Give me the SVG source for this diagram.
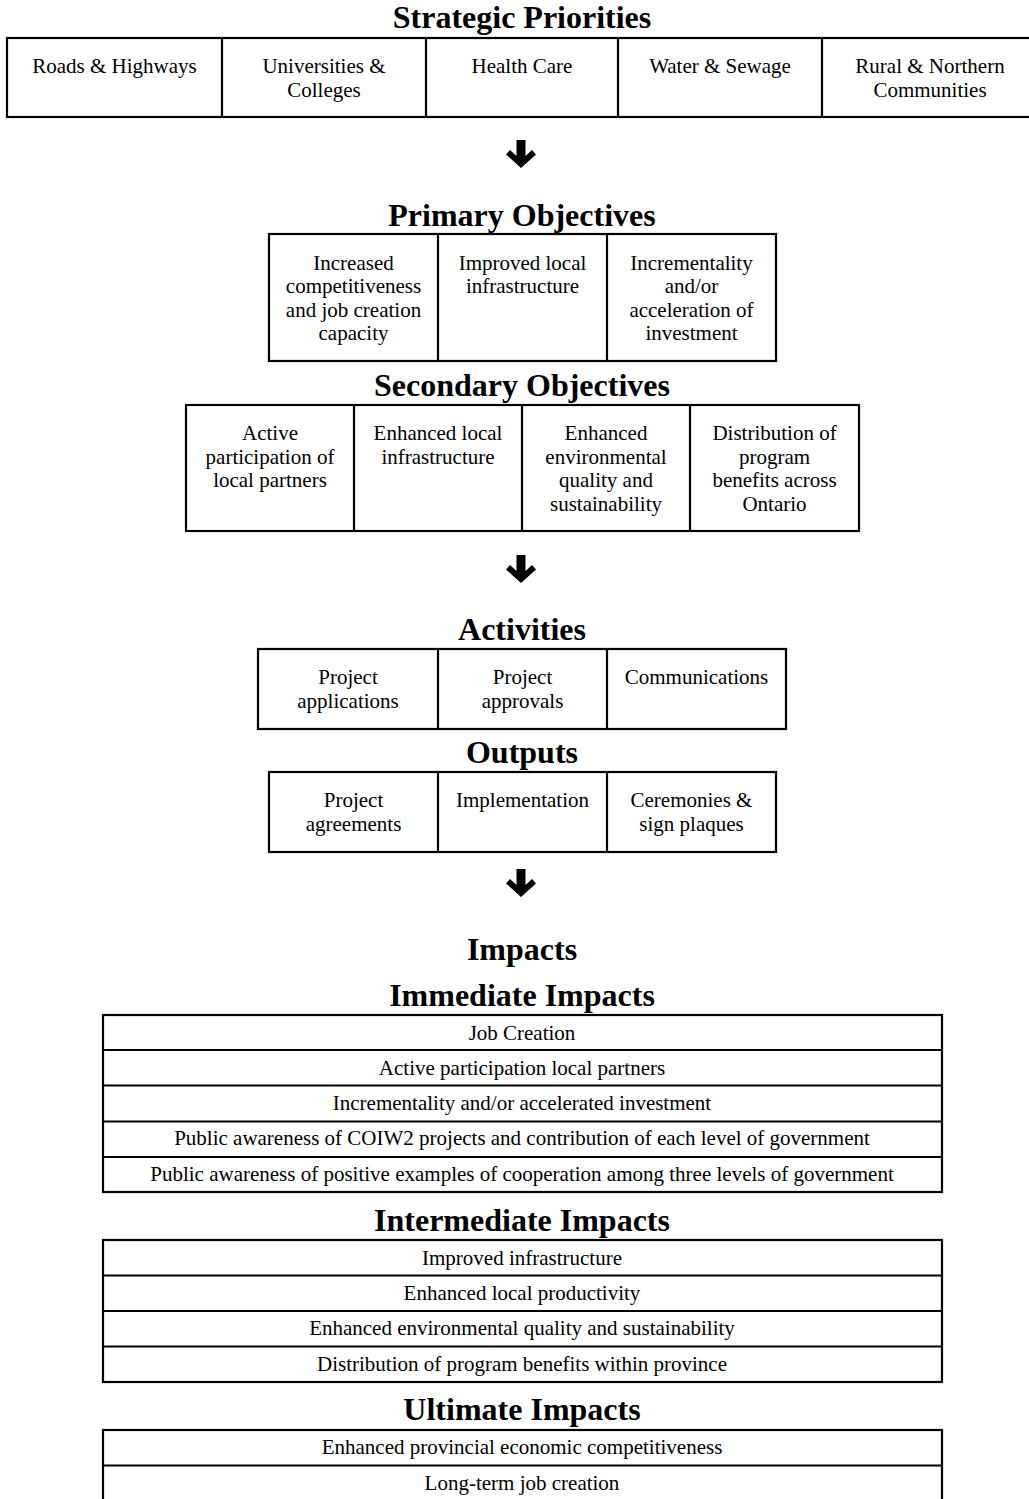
<svg xmlns="http://www.w3.org/2000/svg" width="1029" height="1499" viewBox="0 0 1029 1499">
<defs>
<style>
.t{font-family:"Liberation Serif","Times New Roman",serif;font-size:32px;font-weight:bold;text-anchor:middle;fill:#000}
.c{font-family:"Liberation Serif","Times New Roman",serif;font-size:21px;text-anchor:middle;fill:#000}
.b{fill:#fff;stroke:#000;stroke-width:2.2}
.l{stroke:#000;stroke-width:2.2;fill:none}
.a{fill:#000}
</style>
<polygon id="arrow" class="a" points="-4.5,0 4.5,0 4.5,16 11,10 15,14.5 0,28 -15,14.5 -11,10 -4.5,16"/>
</defs>
<rect width="1029" height="1499" fill="#fff"/>

<g id="strategic">
<text class="t" x="522" y="28">Strategic Priorities</text>
<rect class="b" x="7" y="38" width="1030" height="79"/>
<line class="l" x1="222" y1="38" x2="222" y2="117"/>
<line class="l" x1="426" y1="38" x2="426" y2="117"/>
<line class="l" x1="618" y1="38" x2="618" y2="117"/>
<line class="l" x1="822" y1="38" x2="822" y2="117"/>
<text class="c" x="114.5" y="73">Roads &amp; Highways</text>
<text class="c" x="324" y="73">Universities &amp;</text>
<text class="c" x="324" y="97">Colleges</text>
<text class="c" x="522" y="73">Health Care</text>
<text class="c" x="720" y="73">Water &amp; Sewage</text>
<text class="c" x="930" y="73">Rural &amp; Northern</text>
<text class="c" x="930" y="97">Communities</text>
</g>

<g id="connectors">
<use href="#arrow" x="521" y="140"/>
<use href="#arrow" x="521" y="555"/>
<use href="#arrow" x="521" y="869"/>
</g>

<g id="primary">
<text class="t" x="522" y="226">Primary Objectives</text>
<rect class="b" x="269" y="234" width="507" height="127"/>
<line class="l" x1="438" y1="234" x2="438" y2="361"/>
<line class="l" x1="607" y1="234" x2="607" y2="361"/>
<text class="c" x="353.5" y="270">Increased</text>
<text class="c" x="353.5" y="293">competitiveness</text>
<text class="c" x="353.5" y="317">and job creation</text>
<text class="c" x="353.5" y="340">capacity</text>
<text class="c" x="522.5" y="270">Improved local</text>
<text class="c" x="522.5" y="293">infrastructure</text>
<text class="c" x="691.5" y="270">Incrementality</text>
<text class="c" x="691.5" y="293">and/or</text>
<text class="c" x="691.5" y="317">acceleration of</text>
<text class="c" x="691.5" y="340">investment</text>
</g>

<g id="secondary">
<text class="t" x="522" y="396">Secondary Objectives</text>
<rect class="b" x="186" y="405" width="673" height="126"/>
<line class="l" x1="354" y1="405" x2="354" y2="531"/>
<line class="l" x1="522" y1="405" x2="522" y2="531"/>
<line class="l" x1="690" y1="405" x2="690" y2="531"/>
<text class="c" x="270" y="440">Active</text>
<text class="c" x="270" y="464">participation of</text>
<text class="c" x="270" y="487">local partners</text>
<text class="c" x="438" y="440">Enhanced local</text>
<text class="c" x="438" y="464">infrastructure</text>
<text class="c" x="606" y="440">Enhanced</text>
<text class="c" x="606" y="464">environmental</text>
<text class="c" x="606" y="487">quality and</text>
<text class="c" x="606" y="511">sustainability</text>
<text class="c" x="774.5" y="440">Distribution of</text>
<text class="c" x="774.5" y="464">program</text>
<text class="c" x="774.5" y="487">benefits across</text>
<text class="c" x="774.5" y="511">Ontario</text>
</g>

<g id="activities">
<text class="t" x="522" y="640">Activities</text>
<rect class="b" x="258" y="649" width="528" height="80"/>
<line class="l" x1="438" y1="649" x2="438" y2="729"/>
<line class="l" x1="607" y1="649" x2="607" y2="729"/>
<text class="c" x="348" y="684">Project</text>
<text class="c" x="348" y="708">applications</text>
<text class="c" x="522.5" y="684">Project</text>
<text class="c" x="522.5" y="708">approvals</text>
<text class="c" x="696.5" y="684">Communications</text>
</g>

<g id="outputs">
<text class="t" x="522" y="763">Outputs</text>
<rect class="b" x="269" y="772" width="507" height="80"/>
<line class="l" x1="438" y1="772" x2="438" y2="852"/>
<line class="l" x1="607" y1="772" x2="607" y2="852"/>
<text class="c" x="353.5" y="807">Project</text>
<text class="c" x="353.5" y="831">agreements</text>
<text class="c" x="522.5" y="807">Implementation</text>
<text class="c" x="691.5" y="807">Ceremonies &amp;</text>
<text class="c" x="691.5" y="831">sign plaques</text>
</g>

<g id="impacts">
<text class="t" x="522" y="960">Impacts</text>
</g>

<g id="immediate">
<text class="t" x="522" y="1006">Immediate Impacts</text>
<rect class="b" x="103" y="1015" width="839" height="177"/>
<line class="l" x1="103" y1="1050" x2="942" y2="1050"/>
<line class="l" x1="103" y1="1085.5" x2="942" y2="1085.5"/>
<line class="l" x1="103" y1="1121.5" x2="942" y2="1121.5"/>
<line class="l" x1="103" y1="1157" x2="942" y2="1157"/>
<text class="c" x="522" y="1040">Job Creation</text>
<text class="c" x="522" y="1075">Active participation local partners</text>
<text class="c" x="522" y="1110">Incrementality and/or accelerated investment</text>
<text class="c" x="522" y="1145">Public awareness of COIW2 projects and contribution of each level of government</text>
<text class="c" x="522" y="1181">Public awareness of positive examples of cooperation among three levels of government</text>
</g>

<g id="intermediate">
<text class="t" x="522" y="1231">Intermediate Impacts</text>
<rect class="b" x="103" y="1240" width="839" height="142"/>
<line class="l" x1="103" y1="1275.5" x2="942" y2="1275.5"/>
<line class="l" x1="103" y1="1311" x2="942" y2="1311"/>
<line class="l" x1="103" y1="1346.5" x2="942" y2="1346.5"/>
<text class="c" x="522" y="1265">Improved infrastructure</text>
<text class="c" x="522" y="1300">Enhanced local productivity</text>
<text class="c" x="522" y="1335">Enhanced environmental quality and sustainability</text>
<text class="c" x="522" y="1371">Distribution of program benefits within province</text>
</g>

<g id="ultimate">
<text class="t" x="522" y="1420">Ultimate Impacts</text>
<rect class="b" x="103" y="1430" width="839" height="80"/>
<line class="l" x1="103" y1="1465.5" x2="942" y2="1465.5"/>
<text class="c" x="522" y="1454">Enhanced provincial economic competitiveness</text>
<text class="c" x="522" y="1490">Long-term job creation</text>
</g>
</svg>
